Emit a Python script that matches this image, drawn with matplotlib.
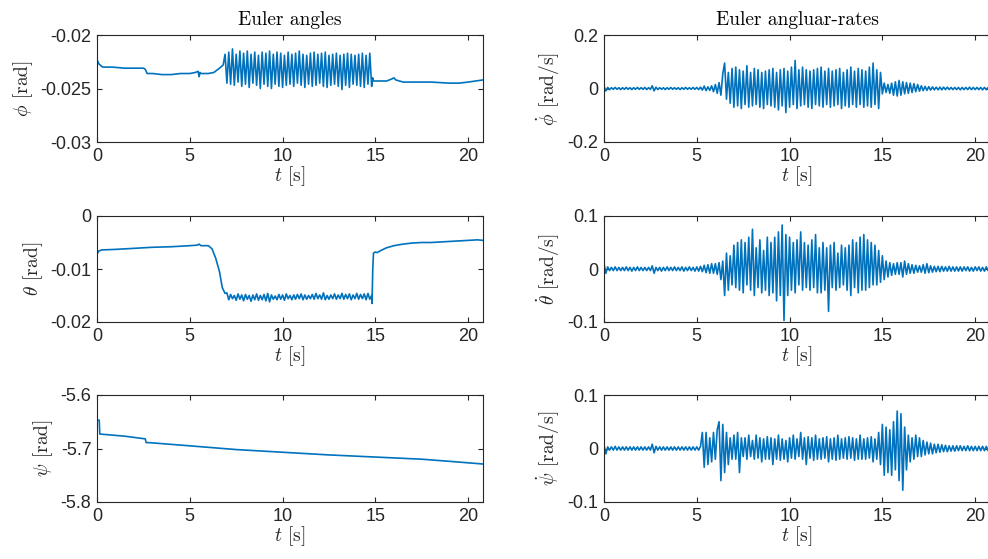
import matplotlib
matplotlib.use("Agg")
import matplotlib.pyplot as plt
import numpy as np

plt.rcParams['mathtext.fontset'] = 'cm'
plt.rcParams['axes.unicode_minus'] = False
plt.rcParams['font.family'] = ['Liberation Sans', 'DejaVu Sans']

blue = '#0072BD'
dark = '#262626'

# ---- Euler angles ----
# phi: quiet part, oscillating part (6.9 - 14.8 s, 0.1 s steps), quiet tail
phi_t_pre = [0, 0.1, 0.3, 0.8, 1.5, 2.0, 2.5, 2.6, 2.7, 3.0, 3.5, 4.0, 4.5, 5.0,
             5.3, 5.45, 5.5, 5.55, 5.6, 6.0, 6.3, 6.6, 6.8]
phi_pre = [-0.0223, -0.0227, -0.0230, -0.0230, -0.0231, -0.0231, -0.0231, -0.0232,
           -0.0236, -0.0236, -0.0237, -0.0237, -0.0236, -0.0236, -0.0235, -0.0234,
           -0.0239, -0.0235, -0.0236, -0.0236, -0.0235, -0.0231, -0.0228]
phi_osc = [-0.0218, -0.0245, -0.0216, -0.0246, -0.0213, -0.0247, -0.0218, -0.0244, -0.0215, -0.0248,
           -0.0217, -0.0246, -0.0215, -0.0249, -0.0218, -0.0245, -0.0216, -0.0247, -0.0219, -0.0250,
           -0.0216, -0.0246, -0.0217, -0.0248, -0.0215, -0.0250, -0.0218, -0.0246, -0.0216, -0.0248,
           -0.0217, -0.0249, -0.0219, -0.0247, -0.0216, -0.0246, -0.0218, -0.0248, -0.0217, -0.0245,
           -0.0215, -0.0247, -0.0218, -0.0249, -0.0219, -0.0246, -0.0217, -0.0248, -0.0216, -0.0247,
           -0.0218, -0.0245, -0.0217, -0.0248, -0.0216, -0.0249, -0.0219, -0.0247, -0.0218, -0.0246,
           -0.0217, -0.0248, -0.0219, -0.0251, -0.0218, -0.0247, -0.0217, -0.0249, -0.0218, -0.0246,
           -0.0219, -0.0247, -0.0218, -0.0248, -0.0217, -0.0249, -0.0219, -0.0246, -0.0217, -0.0248]
phi_t_post = [14.85, 14.9, 15.2, 15.6, 15.9, 16.0, 16.1, 16.5, 17.0, 18.0, 19.0, 19.5, 20.0, 20.8]
phi_post = [-0.0240, -0.0243, -0.0243, -0.0243, -0.0241, -0.0240, -0.0242, -0.0244,
            -0.0244, -0.0244, -0.0245, -0.0245, -0.0244, -0.0242]

# theta: smooth part, noisy plateau (7.0 - 14.8 s, 0.1 s steps), recovery
theta_t_pre = [0, 0.1, 0.25, 1, 2, 3, 4, 5, 5.4, 5.5, 5.6, 6.0, 6.2, 6.4, 6.6, 6.75, 6.9]
theta_pre = [-0.0072, -0.0066, -0.0064, -0.0063, -0.0061, -0.0059, -0.0058, -0.0056,
             -0.0055, -0.0053, -0.0056, -0.0056, -0.0062, -0.0080, -0.0105, -0.0135, -0.0146]
theta_mid = [-0.0145, -0.0158, -0.0148, -0.0156, -0.0150, -0.0159, -0.0147, -0.0157, -0.0149, -0.0160,
             -0.0148, -0.0157, -0.0150, -0.0161, -0.0149, -0.0158, -0.0147, -0.0159, -0.0150, -0.0158,
             -0.0148, -0.0160, -0.0146, -0.0162, -0.0149, -0.0157, -0.0151, -0.0158, -0.0148, -0.0157,
             -0.0149, -0.0159, -0.0147, -0.0156, -0.0150, -0.0158, -0.0149, -0.0157, -0.0148, -0.0156,
             -0.0147, -0.0158, -0.0149, -0.0157, -0.0150, -0.0156, -0.0148, -0.0157, -0.0146, -0.0156,
             -0.0149, -0.0157, -0.0145, -0.0158, -0.0150, -0.0157, -0.0149, -0.0156, -0.0147, -0.0157,
             -0.0149, -0.0156, -0.0146, -0.0157, -0.0148, -0.0156, -0.0147, -0.0158, -0.0149, -0.0156,
             -0.0146, -0.0157, -0.0148, -0.0156, -0.0147, -0.0158, -0.0146, -0.0157, -0.0150]
theta_t_post = [14.82, 14.86, 14.9, 15.0, 15.1, 15.3, 15.6, 16.0, 16.5, 17.0, 17.5, 18.0,
                18.5, 19.0, 19.5, 20.0, 20.5, 20.8]
theta_post = [-0.0165, -0.0100, -0.0070, -0.0068, -0.0069, -0.0065, -0.0060, -0.0056, -0.0053,
              -0.0051, -0.0050, -0.0050, -0.0049, -0.0048, -0.0047, -0.0046, -0.0045, -0.0046]

psi_t = [0, 0.12, 0.15, 0.5, 1.5, 2.6, 2.65, 2.8, 5, 7.5, 10, 12.5, 15, 17.5, 19, 20.8]
psi = [-5.647, -5.647, -5.673, -5.674, -5.677, -5.682, -5.689, -5.689, -5.695, -5.702,
       -5.707, -5.712, -5.716, -5.720, -5.724, -5.729]

# ---- Euler angular rates, sampled every 0.1 s from 0 to 20.8 s ----
phi_dot = [
    0.008, -0.009, 0.004, -0.004, 0.003, -0.003, 0.004, -0.003, 0.003, -0.004,
    0.003, -0.003, 0.004, -0.003, 0.003, -0.004, 0.003, -0.003, 0.004, -0.003,
    0.003, -0.003, 0.004, -0.004, 0.003, -0.003, 0.010, -0.009, 0.005, -0.004,
    0.003, -0.003, 0.003, -0.004, 0.003, -0.003, 0.004, -0.003, 0.003, -0.003,
    0.003, -0.004, 0.003, -0.003, 0.004, -0.003, 0.003, -0.003, 0.004, -0.003,
    0.004, -0.004, 0.005, -0.006, 0.009, -0.008, 0.006, -0.007, 0.010, -0.012,
    0.015, -0.018, 0.022, -0.025, 0.055, 0.095, -0.040, 0.060, -0.055, 0.075,
    -0.070, 0.080, -0.065, 0.070, -0.075, 0.065, -0.060, 0.085, -0.070, 0.060,
    -0.065, 0.075, -0.060, 0.070, -0.070, 0.060, -0.075, 0.065, -0.060, 0.070,
    -0.065, 0.075, -0.070, 0.060, -0.080, 0.070, -0.065, 0.075, -0.090, 0.065,
    -0.070, 0.080, -0.060, 0.105, -0.075, 0.070, -0.065, 0.080, -0.060, 0.070,
    -0.070, 0.065, -0.075, 0.070, -0.060, 0.075, -0.065, 0.080, -0.070, 0.065,
    -0.060, 0.075, -0.070, 0.065, -0.065, 0.070, -0.060, 0.075, -0.075, 0.060,
    -0.065, 0.070, -0.070, 0.080, -0.060, 0.065, -0.070, 0.075, -0.060, 0.070,
    -0.070, 0.065, -0.065, 0.080, -0.070, 0.095, -0.060, 0.070, -0.075, 0.060,
    -0.020, 0.020, -0.015, 0.015, -0.018, 0.020, -0.025, 0.025, -0.028, 0.030,
    -0.025, 0.025, -0.020, 0.022, -0.018, 0.020, -0.015, 0.018, -0.012, 0.015,
    -0.010, 0.010, -0.008, 0.008, -0.007, 0.007, -0.006, 0.006, -0.005, 0.005,
    -0.005, 0.005, -0.005, 0.005, -0.004, 0.005, -0.004, 0.004, -0.004, 0.004,
    -0.004, 0.004, -0.005, 0.004, -0.004, 0.004, -0.004, 0.005, -0.004, 0.004,
    -0.004, 0.004, -0.004, 0.004, -0.005, 0.004, -0.004, 0.004, -0.003]

theta_dot = [
    0.010, -0.008, 0.004, -0.003, 0.003, -0.003, 0.004, -0.003, 0.003, -0.003,
    0.003, -0.003, 0.004, -0.003, 0.003, -0.004, 0.003, -0.003, 0.004, -0.003,
    0.003, -0.003, 0.003, -0.003, 0.003, -0.003, 0.006, -0.008, 0.003, -0.003,
    0.003, -0.004, 0.003, -0.003, 0.004, -0.003, 0.003, -0.003, 0.004, -0.003,
    0.003, -0.003, 0.004, -0.004, 0.003, -0.003, 0.004, -0.003, 0.003, -0.004,
    0.004, -0.004, 0.005, -0.005, 0.007, -0.007, 0.008, -0.008, 0.010, -0.008,
    0.010, -0.010, 0.012, -0.020, 0.015, -0.050, 0.030, -0.040, 0.025, -0.030,
    0.045, -0.035, 0.050, -0.040, 0.055, -0.045, 0.050, -0.030, 0.060, -0.040,
    0.075, -0.050, 0.040, -0.035, 0.055, -0.045, 0.035, -0.040, 0.060, -0.050,
    0.050, -0.045, 0.060, -0.060, 0.070, -0.050, 0.083, -0.097, 0.065, -0.050,
    0.060, -0.040, 0.050, -0.045, 0.055, -0.030, 0.070, -0.040, 0.050, -0.035,
    0.045, -0.040, 0.055, -0.035, 0.065, -0.045, 0.040, -0.045, 0.050, -0.040,
    0.040, -0.080, 0.045, -0.035, 0.050, -0.040, 0.030, -0.035, 0.045, -0.030,
    0.040, -0.040, 0.045, -0.050, 0.055, -0.035, 0.050, -0.045, 0.060, -0.040,
    0.065, -0.040, 0.055, -0.035, 0.050, -0.030, 0.045, -0.030, 0.035, -0.025,
    0.025, -0.020, 0.015, -0.015, 0.012, -0.012, 0.010, -0.010, 0.012, -0.010,
    0.012, -0.015, 0.015, -0.010, 0.010, -0.008, 0.008, -0.008, 0.007, -0.006,
    0.006, -0.006, 0.008, -0.008, 0.010, -0.007, 0.006, -0.006, 0.005, -0.005,
    0.005, -0.005, 0.005, -0.004, 0.004, -0.004, 0.005, -0.004, 0.004, -0.004,
    0.004, -0.004, 0.004, -0.004, 0.004, -0.003, 0.004, -0.004, 0.003, -0.004,
    0.004, -0.003, 0.004, -0.004, 0.003, -0.004, 0.004, -0.003, 0.003]

psi_dot = [
    0.006, -0.010, 0.003, -0.003, 0.003, -0.003, 0.004, -0.003, 0.003, -0.003,
    0.003, -0.003, 0.003, -0.003, 0.003, -0.003, 0.003, -0.003, 0.003, -0.003,
    0.003, -0.003, 0.003, -0.003, 0.003, -0.003, 0.008, -0.008, 0.004, -0.003,
    0.003, -0.003, 0.003, -0.003, 0.003, -0.003, 0.003, -0.003, 0.003, -0.003,
    0.003, -0.003, 0.003, -0.003, 0.003, -0.003, 0.003, -0.003, 0.003, -0.003,
    0.003, -0.003, 0.004, 0.030, -0.035, 0.030, -0.030, 0.020, -0.025, 0.030,
    -0.020, 0.035, 0.050, -0.060, 0.045, -0.045, 0.030, -0.030, 0.020, -0.020,
    0.025, -0.020, 0.030, -0.045, 0.020, -0.015, 0.020, -0.020, 0.025, -0.015,
    0.015, -0.020, 0.025, -0.018, 0.020, -0.025, 0.018, -0.020, 0.022, -0.020,
    0.020, -0.030, 0.018, -0.020, 0.025, -0.022, 0.018, -0.020, 0.015, -0.025,
    0.020, -0.018, 0.025, -0.020, 0.018, -0.015, 0.030, -0.020, 0.020, -0.030,
    0.022, -0.018, 0.020, -0.022, 0.025, -0.020, 0.018, -0.020, 0.020, -0.018,
    0.022, -0.025, 0.018, -0.020, 0.020, -0.022, 0.025, -0.020, 0.018, -0.018,
    0.020, -0.020, 0.022, -0.018, 0.020, -0.022, 0.018, -0.020, 0.025, -0.020,
    0.018, -0.020, 0.020, -0.018, 0.022, -0.025, 0.018, -0.020, 0.030, -0.030,
    0.045, -0.050, 0.040, -0.045, 0.035, -0.050, 0.050, -0.040, 0.070, -0.060,
    0.065, -0.078, 0.040, -0.040, 0.025, -0.025, 0.020, -0.020, 0.025, -0.015,
    0.020, -0.015, 0.015, -0.012, 0.012, -0.010, 0.010, -0.010, 0.008, -0.008,
    0.008, -0.007, 0.007, -0.006, 0.006, -0.006, 0.005, -0.005, 0.005, -0.005,
    0.005, -0.004, 0.005, -0.004, 0.004, -0.004, 0.005, -0.004, 0.004, -0.004,
    0.004, -0.004, 0.004, -0.004, 0.004, -0.004, 0.004, -0.004, 0.004]

# build time vectors
t_osc = np.round(6.9 + 0.1 * np.arange(len(phi_osc)), 2)
t_mid = np.round(7.0 + 0.1 * np.arange(len(theta_mid)), 2)
t_rate = np.round(0.1 * np.arange(len(phi_dot)), 2)

phi_t = np.concatenate([phi_t_pre, t_osc, phi_t_post])
phi_all = np.concatenate([phi_pre, phi_osc, phi_post])
theta_t = np.concatenate([theta_t_pre, t_mid, theta_t_post])
theta_all = np.concatenate([theta_pre, theta_mid, theta_post])

W, H = 988, 559
fig = plt.figure(figsize=(W / 100, H / 100), dpi=100)

cols = [97 / W, 604 / W]
aw = 386 / W
rows = [(35, 142), (216, 322), (395, 502)]

panels = [
    (0, 0, phi_t, phi_all, (-0.03, -0.02), [-0.03, -0.025, -0.02], ['-0.03', '-0.025', '-0.02'], r'$\phi$'),
    (0, 1, theta_t, theta_all, (-0.02, 0), [-0.02, -0.01, 0], ['-0.02', '-0.01', '0'], r'$\theta$'),
    (0, 2, psi_t, psi, (-5.8, -5.6), [-5.8, -5.7, -5.6], ['-5.8', '-5.7', '-5.6'], r'$\psi$'),
    (1, 0, t_rate, phi_dot, (-0.2, 0.2), [-0.2, 0, 0.2], ['-0.2', '0', '0.2'], r'$\dot{\phi}$'),
    (1, 1, t_rate, theta_dot, (-0.1, 0.1), [-0.1, 0, 0.1], ['-0.1', '0', '0.1'], r'$\dot{\theta}$'),
    (1, 2, t_rate, psi_dot, (-0.1, 0.1), [-0.1, 0, 0.1], ['-0.1', '0', '0.1'], r'$\dot{\psi}$'),
]

for c, r, x, y, ylim, yt, ytl, sym in panels:
    top, bot = rows[r]
    ax = fig.add_axes([cols[c], 1 - bot / H, aw, (bot - top) / H])
    ax.plot(x, y, color=blue, lw=1.2)
    ax.set_xlim(0, 20.8)
    ax.set_ylim(*ylim)
    ax.set_xticks([0, 5, 10, 15, 20])
    ax.set_xticklabels(['0', '5', '10', '15', '20'])
    ax.set_yticks(yt)
    ax.set_yticklabels(ytl)
    ax.tick_params(direction='in', top=True, right=True, length=3.5, width=0.8,
                   labelsize=13, colors=dark, pad=4)
    for s in ax.spines.values():
        s.set_color(dark)
        s.set_linewidth(0.8)
    unit = '[rad]' if c == 0 else '[rad/s]'
    ax.set_ylabel(sym + ' ' + unit, family='cmr10', fontsize=14, color=dark, labelpad=4)
    ax.set_xlabel(r'$t$ [s]', family='cmr10', fontsize=14, color=dark, labelpad=0)
    if r == 0:
        ax.set_title('Euler angles' if c == 0 else 'Euler angluar-rates',
                     family='cmr10', fontsize=14, color='black', pad=7)

fig.savefig('out.png', dpi=100)
